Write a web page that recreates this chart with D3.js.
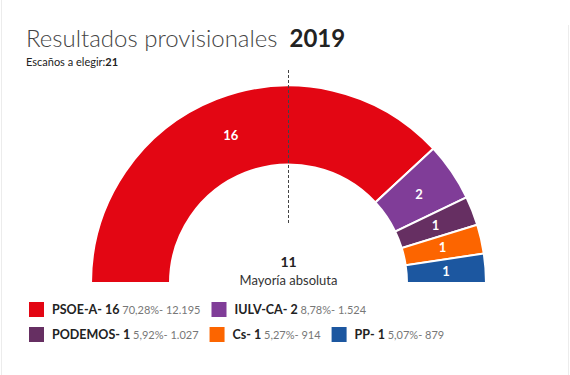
<!DOCTYPE html>
<html>
<head>
<meta charset="utf-8">
<script src="https://cdn.jsdelivr.net/npm/d3@7"></script>
<style>
  html, body { margin:0; padding:0; background:#fff; }
  body { width:570px; height:375px; overflow:hidden; font-family: Lato, "Open Sans", sans-serif; }
  svg { display:block; }
</style>
</head>
<body>
<div id="chart"></div>
<script>
// Hemiciclo - resultados provisionales 2019
(function(){
  const parties = ['PSOE-A', 'IULV-CA', 'PODEMOS', 'Cs', 'PP'];
  const seats   = [16, 2, 1, 1, 1];
  const pct     = ['70,28%', '8,78%', '5,92%', '5,27%', '5,07%'];
  const votes   = ['12.195', '1.524', '1.027', '914', '879'];
  const colors  = ['#e30613', '#803d98', '#662f62', '#fc6500', '#1c57a0'];
  const totalSeats = 21;
  const majority = 11;

  const width = 570, height = 375;
  const cx = 288.5, cy = 283;
  const rOuter = 197.5, rInner = 118.5;

  const data = parties.map((p,i) => ({party:p, seats:seats[i], pct:pct[i], votes:votes[i], color:colors[i]}));

  const svg = d3.select('#chart').append('svg')
    .attr('width', width)
    .attr('height', height);

  // faint frame lines
  svg.append('line').attr('x1',1.5).attr('x2',1.5).attr('y1',0).attr('y2',height)
    .attr('stroke','#ececec').attr('stroke-width',1);
  svg.append('line').attr('x1',568.5).attr('x2',568.5).attr('y1',25).attr('y2',height)
    .attr('stroke','#ececec').attr('stroke-width',1);

  // title
  const title = svg.append('text')
    .attr('x', 26)
    .attr('y', 47)
    .attr('font-size', '24px');
  title.append('tspan')
    .attr('font-weight', 300)
    .attr('fill', '#444')
    .text('Resultados provisionales');
  title.append('tspan')
    .attr('dx', 12)
    .attr('font-weight', 700)
    .attr('fill', '#222')
    .text('2019');

  const sub = svg.append('text')
    .attr('x', 26)
    .attr('y', 66)
    .attr('font-size', '11px')
    .attr('fill', '#222');
  sub.append('tspan').text('Escaños a elegir:');
  sub.append('tspan').attr('font-weight', 700).text(totalSeats);

  // hemicycle
  const pie = d3.pie()
    .sort(null)
    .value(d => d.seats)
    .startAngle(-Math.PI/2)
    .endAngle(Math.PI/2);

  const arc = d3.arc()
    .innerRadius(rInner)
    .outerRadius(rOuter);

  const labelArc = d3.arc()
    .innerRadius((rInner + rOuter)/2)
    .outerRadius((rInner + rOuter)/2);

  const g = svg.append('g')
    .attr('transform', `translate(${cx},${cy})`);

  const arcs = pie(data);

  g.selectAll('path.slice').data(arcs).enter().append('path')
    .attr('class','slice')
    .attr('d', arc)
    .attr('fill', d => d.data.color)
    .attr('stroke', '#fff')
    .attr('stroke-width', 2);

  g.selectAll('text.seat').data(arcs).enter().append('text')
    .attr('class','seat')
    .attr('transform', d => `translate(${labelArc.centroid(d)})`)
    .attr('text-anchor','middle')
    .attr('dy','0.35em')
    .attr('fill','#fff')
    .attr('font-weight',700)
    .attr('font-size','13px')
    .text(d => d.data.seats);

  // majority line
  g.append('line')
    .attr('x1', 0).attr('x2', 0)
    .attr('y1', -213).attr('y2', -60)
    .attr('stroke', '#444')
    .attr('stroke-width', 1)
    .attr('stroke-dasharray', '3,2');

  g.append('text')
    .attr('x', 0).attr('y', -16)
    .attr('text-anchor','middle')
    .attr('font-weight',700)
    .attr('font-size','14px')
    .attr('fill','#222')
    .text(majority);

  g.append('text')
    .attr('x', 0).attr('y', 2)
    .attr('text-anchor','middle')
    .attr('font-size','13px')
    .attr('fill','#333')
    .text('Mayoría absoluta');

  // legend (flowing rows)
  const legend = svg.append('g');
  const startX = 29, maxX = 465, rowH = 25;
  let lx = startX, ly = 302;
  data.forEach(d => {
    const item = legend.append('g');
    item.append('rect')
      .attr('width', 15).attr('height', 15)
      .attr('fill', d.color);
    const t = item.append('text')
      .attr('x', 23).attr('y', 12);
    t.append('tspan')
      .attr('font-weight', 700)
      .attr('font-size', '12.5px')
      .attr('fill', '#222')
      .text(`${d.party}- ${d.seats}`);
    t.append('tspan')
      .attr('font-size', '11px')
      .attr('fill', '#777')
      .text(` ${d.pct}- ${d.votes}`);
    const w = 23 + t.node().getComputedTextLength();
    if (lx > startX && lx + w > maxX) {
      lx = startX; ly += rowH;
    }
    item.attr('transform', `translate(${lx},${ly})`);
    lx += w + 11;
  });
})();
</script>
</body>
</html>
